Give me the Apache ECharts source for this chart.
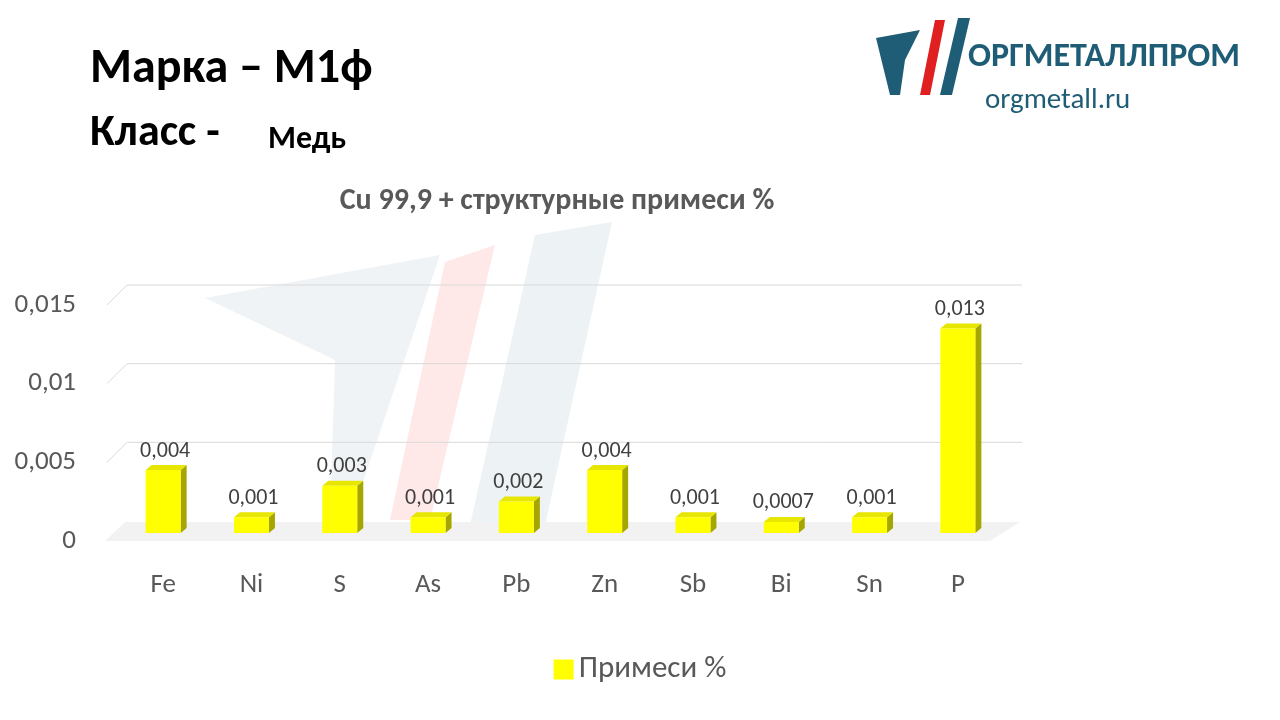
<!DOCTYPE html>
<html><head><meta charset="utf-8">
<script src="https://cdn.jsdelivr.net/npm/echarts@6/dist/echarts.min.js"></script>
<style>html,body{margin:0;background:#fff}#c{width:1280px;height:720px}</style></head>
<body><div id="c"></div>
<script>
const categories=['Fe','Ni','S','As','Pb','Zn','Sb','Bi','Sn','P'];
const values=[0.004,0.001,0.003,0.001,0.002,0.004,0.001,0.0007,0.001,0.013];
const labels=['0,004','0,001','0,003','0,001','0,002','0,004','0,001','0,0007','0,001','0,013'];
const yTicks=[0,0.005,0.01,0.015];
const chart=echarts.init(document.getElementById('c'));
const F='Calibri, Carlito, "Open Sans", sans-serif';
chart.setOption({
 animation:false,
 title:{text:'Cu 99,9 + структурные примеси %',left:552,top:181,textAlign:'center',textStyle:{fontFamily:F,fontSize:30,fontWeight:'bold',color:'#595959'}},
 graphic:[
  {type:'text',left:90,top:46,style:{text:'Марка – М1ф',font:'bold 48px '+F,fill:'#000'}},
  {type:'text',left:90,top:112,style:{text:'Класс -',font:'bold 44px '+F,fill:'#000'}},
  {type:'text',left:268,top:124,style:{text:'Медь',font:'bold 32px '+F,fill:'#000'}},
  {type:'polygon',shape:{points:[[876,38],[920,30],[905,60],[900,95],[890,95]]},style:{fill:'#1e5d75'}},
  {type:'polygon',shape:{points:[[920,95],[935,20],[945,20],[930,95]]},style:{fill:'#e02020'}},
  {type:'polygon',shape:{points:[[940,95],[958,18],[970,18],[952,95]]},style:{fill:'#1e5d75'}},
  {type:'text',left:968,top:40,style:{text:'ОРГМЕТАЛЛПРОМ',font:'bold 34px '+F,fill:'#1e5d75'}},
  {type:'text',left:985,top:86,style:{text:'orgmetall.ru',font:'29px '+F,fill:'#1e5d75'}},
  {type:'polygon',z:-10,shape:{points:[[205,298],[440,255],[350,520],[330,520],[335,360]]},style:{fill:'rgba(225,233,238,0.55)'}},
  {type:'polygon',z:-10,shape:{points:[[445,262],[495,245],[430,520],[390,520]]},style:{fill:'rgba(255,205,205,0.45)'}},
  {type:'polygon',z:-10,shape:{points:[[535,235],[612,222],[545,525],[470,525]]},style:{fill:'rgba(225,233,238,0.6)'}},
  {type:'polygon',z:-1,shape:{points:[[105,541],[125,522],[1020,522],[990,541]]},style:{fill:'#f2f2f2'}}
 ],
 legend:{bottom:30,left:'center',itemWidth:20,itemHeight:20,textStyle:{fontFamily:F,fontSize:31,color:'#595959'},data:[{name:'Примеси %',icon:'rect',itemStyle:{color:'#ffff00'}}]},
 grid:{left:119,right:278,top:305,bottom:179},
 xAxis:{type:'category',data:categories,axisLine:{show:false},axisTick:{show:false},axisLabel:{margin:31,fontFamily:F,fontSize:27,color:'#595959'}},
 yAxis:{type:'value',min:0,max:0.015,interval:0.005,axisLabel:{margin:43,fontFamily:F,fontSize:27,color:'#595959',formatter:v=>String(+v.toFixed(3)).replace('.',',')},splitLine:{show:false}},
 series:[
  {type:'custom',name:'grid',silent:true,z:0,data:yTicks.slice(1).map(v=>[0,v]),renderItem:(p,api)=>{
    const a=api.coord([0,api.value(1)]);const s=p.coordSys;
    return {type:'polyline',shape:{points:[[s.x-12,a[1]],[s.x+8,a[1]-20],[s.x+s.width+20,a[1]-20]]},style:{stroke:'#d9d9d9',lineWidth:1,fill:null}};
  }},
  {type:'custom',name:'Примеси %',z:5,data:values.map((v,i)=>[i,v]),renderItem:(p,api)=>{
    const i=api.value(0),v=api.value(1);
    const b=api.coord([i,0]),t=api.coord([i,v]);
    const w=35,x0=b[0]-w/2,yb=b[1]-8,yt=t[1]-8,dx=6,dy=-5;
    return {type:'group',children:[
     {type:'polygon',shape:{points:[[x0+w,yb],[x0+w+dx,yb+dy],[x0+w+dx,yt+dy],[x0+w,yt]]},style:{fill:'#a6a600'}},
     {type:'polygon',shape:{points:[[x0,yt],[x0+dx,yt+dy],[x0+w+dx,yt+dy],[x0+w,yt]]},style:{fill:'#e6e600'}},
     {type:'rect',shape:{x:x0,y:yt,width:w,height:yb-yt},style:{fill:'#ffff00'}},
     {type:'text',style:{text:labels[i],x:x0+w/2+2,y:yt-8,align:'center',verticalAlign:'bottom',font:'22px '+F,fill:'#404040'}}
    ]};
  }}
 ]
});
</script></body></html>
